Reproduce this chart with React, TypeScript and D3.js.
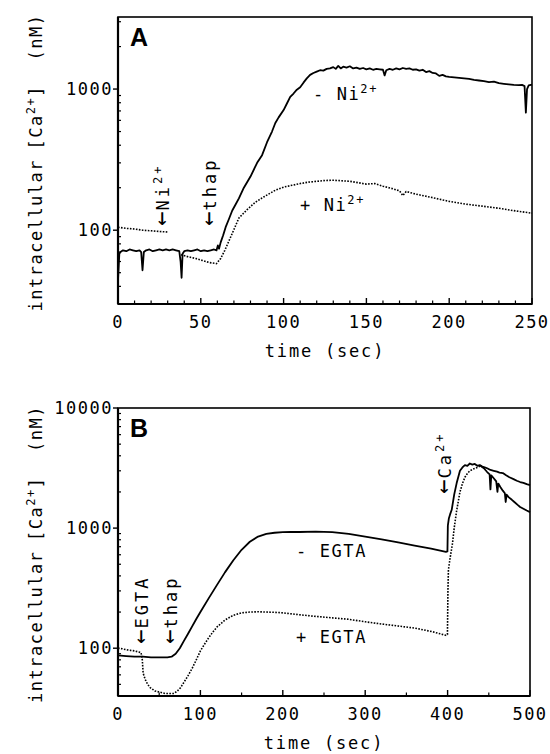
import React from 'react';
import * as d3 from 'd3';

type Pt = [number, number];

// ---------- tick labels ----------
const panelAXTicks = [0, 50, 100, 150, 200, 250];
const panelAYTicks = [100, 1000];
const panelBXTicks = [0, 100, 200, 300, 400, 500];
const panelBYTicks = [100, 1000, 10000];

// ---------- Panel A : thapsigargin -/+ Ni2+ ----------
const aMinusNi: Pt[] = [
  [0, 44], [0.8, 68], [1.5, 70], [3, 72], [5, 71], [7, 73], [9, 72], [11, 71], [13, 72], [14, 70],
  [14.8, 52], [15.6, 70], [17, 72], [19, 73], [21, 71], [23, 72], [25, 73], [27, 72], [29, 73],
  [31, 72], [33, 73], [35, 72], [37, 71], [37.8, 60], [38.4, 46], [39, 68], [40, 71], [42, 72],
  [44, 71], [46, 72], [48, 73], [50, 71], [52, 72], [54, 71], [56, 72], [58, 73], [59.5, 72],
  [60.3, 78], [61, 74], [62, 82], [63.5, 92], [65, 105], [67, 120], [69, 138], [71, 152], [73, 168],
  [76, 200], [80, 240], [84, 300], [87, 340], [90, 420], [93, 500], [95, 575], [97, 630], [100, 710],
  [102, 790], [104, 880], [106, 930], [108, 990], [110, 1030], [112, 1110], [114, 1190], [116, 1260],
  [118, 1300], [120, 1330], [122, 1360], [124, 1350], [126, 1390], [128, 1400], [130, 1430],
  [131.5, 1390], [133, 1460], [134.5, 1400], [136, 1440], [138, 1420], [140, 1450], [142, 1400],
  [144, 1420], [146, 1390], [148, 1410], [150, 1380], [152, 1400], [154, 1370], [156, 1390],
  [158, 1380], [160, 1370], [161, 1250], [162, 1360], [164, 1390], [166, 1370], [168, 1400],
  [170, 1380], [172, 1410], [174, 1390], [176, 1400], [178, 1370], [180, 1380], [182, 1350],
  [184, 1370], [186, 1320], [188, 1340], [190, 1300], [192, 1290], [194, 1240], [196, 1260],
  [198, 1230], [200, 1220], [203, 1210], [206, 1200], [209, 1190], [212, 1180], [215, 1160],
  [218, 1150], [221, 1140], [224, 1120], [227, 1130], [230, 1100], [233, 1090], [236, 1080],
  [239, 1070], [242, 1065], [244, 1070], [245.5, 1050], [246.3, 680], [247, 1000], [248, 1060],
  [250, 1075],
];

const aPlusNiEarly: Pt[] = [
  [0, 105], [5, 103], [10, 102], [15, 100], [20, 99], [25, 98], [30, 97],
];

const aPlusNiLate: Pt[] = [
  [38, 67], [42, 65], [47, 63], [51, 61], [55, 59], [59.5, 58], [62, 63], [64.5, 72], [67, 84],
  [69, 95], [73, 122], [78, 140], [83, 158], [88, 172], [95, 192], [100, 202], [105, 208],
  [110, 214], [115, 219], [120, 222], [125, 225], [130, 226], [135, 224], [140, 222], [145, 217],
  [150, 212], [155, 214], [160, 205], [165, 198], [170, 190], [172, 176], [174, 188], [180, 180],
  [190, 170], [200, 160], [210, 153], [220, 148], [230, 143], [240, 137], [250, 132],
];

// ---------- Panel B : thapsigargin -/+ EGTA, then Ca2+ ----------
const bMinusEgta: Pt[] = [
  [0, 87], [10, 86], [20, 85], [30, 85], [40, 84], [50, 84], [60, 84], [65, 85], [70, 90], [75, 100],
  [80, 115], [85, 132], [90, 152], [95, 175], [100, 200], [110, 260], [120, 335], [130, 430],
  [140, 540], [150, 660], [160, 770], [170, 850], [180, 895], [190, 915], [200, 925], [210, 930],
  [220, 928], [240, 935], [260, 925], [280, 895], [300, 850], [320, 805], [340, 760], [360, 715],
  [380, 675], [398, 635], [399.8, 640], [400.3, 1050], [401.5, 1200], [403, 1300], [405, 1420],
  [408, 1900], [411, 2370], [415, 3000], [418, 3200], [421, 3350], [424, 3300], [427, 3450],
  [430, 3380], [433, 3420], [436, 3300], [439, 3350], [442, 3250], [445, 3200], [448, 3150],
  [452, 3050], [456, 3000], [460, 2950], [463, 2900], [467, 2870], [471, 2750], [475, 2650],
  [480, 2560], [484, 2480], [488, 2420], [492, 2380], [496, 2320], [500, 2280],
];

const bPlusEgta: Pt[] = [
  [0, 100], [5, 99], [10, 97], [15, 96], [20, 95], [25, 93], [28, 92], [29.5, 80], [30.5, 62],
  [33, 55], [36, 50], [39, 47], [45, 44], [51, 43], [57, 42], [63, 42], [68, 42], [72, 44], [76, 47],
  [80, 52], [85, 59], [90, 68], [95, 80], [100, 95], [105, 108], [110, 122], [115, 136], [120, 150],
  [130, 172], [140, 188], [150, 197], [160, 200], [170, 201], [180, 200], [190, 199], [200, 197],
  [220, 190], [240, 184], [260, 179], [280, 174], [300, 166], [320, 159], [340, 153], [360, 147],
  [380, 138], [398, 128], [399.8, 130], [400.4, 300], [401, 450], [403, 560], [406, 750],
  [408, 1000], [411, 1400], [415, 2000], [418, 2350], [421, 2650], [424, 2850], [427, 3000],
  [431, 3100], [436, 3200], [440, 3300],
];

const bPlusEgtaTail: Pt[] = [
  [440, 3300], [444, 3150], [448, 2930], [451, 2800], [452, 2100], [453, 2750], [456, 2600],
  [459, 2450], [460.5, 2000], [461.5, 2350], [464, 2200], [467, 2050], [469.5, 1950], [470.5, 1650],
  [471.5, 1900], [474, 1810], [478, 1720], [481, 1650], [485, 1560], [488, 1500], [492, 1450],
  [496, 1400], [500, 1360],
];

const MONO = "'DejaVu Sans Mono', monospace";
const SANS = "'Liberation Sans', Arial, sans-serif";

type Series = { data: Pt[]; dotted: boolean };

type PanelProps = {
  box: { l: number; r: number; t: number; b: number };
  xDom: [number, number];
  yDom: [number, number];
  xLabels: number[];
  xMinorStep: number;
  yLabels: number[];
  series: Series[];
  letter: string;
  children?: React.ReactNode;
};

function Sup({ base, sup, after }: { base: string; sup: string; after?: string }) {
  return (
    <>
      {base}
      <tspan fontSize={12} dy={-7}>{sup}</tspan>
      {after !== undefined ? <tspan dy={7}>{after}</tspan> : null}
    </>
  );
}

function Panel({ box, xDom, yDom, xLabels, xMinorStep, yLabels, series, letter, children }: PanelProps) {
  const x = d3.scaleLinear().domain(xDom).range([box.l, box.r]);
  const y = d3.scaleLog().domain(yDom).range([box.b, box.t]);
  const line = d3.line<Pt>().x((d) => x(d[0])).y((d) => y(d[1]));
  const xMinor = d3.range(xDom[0], xDom[1] + 1e-6, xMinorStep).filter((v) => !xLabels.includes(v));
  const yMinor = y.ticks().filter((v) => !yLabels.includes(v) && v > yDom[0] && v < yDom[1]);
  const cy = (box.t + box.b) / 2;
  const labelStyle = { fontFamily: MONO, fontSize: 17, letterSpacing: 1.5 } as const;

  return (
    <g>
      {series.map((s, i) => (
        <path
          key={i}
          d={line(s.data) || ''}
          fill="none"
          stroke="#000"
          strokeWidth={s.dotted ? 1.6 : 1.8}
          strokeDasharray={s.dotted ? '1.6 1.4' : undefined}
          strokeLinejoin="round"
        />
      ))}
      <rect x={box.l} y={box.t} width={box.r - box.l} height={box.b - box.t} fill="none" stroke="#000" strokeWidth={1.6} />
      <line x1={box.l} x2={box.l} y1={box.t} y2={box.b} stroke="#000" strokeWidth={2.2} />
      <line x1={box.l} x2={box.r} y1={box.b} y2={box.b} stroke="#000" strokeWidth={2.2} />
      {/* x ticks (inward) */}
      {xLabels.map((v) => (
        <line key={'xM' + v} x1={x(v)} x2={x(v)} y1={box.b} y2={box.b - 6} stroke="#000" strokeWidth={1.4} />
      ))}
      {xMinor.map((v) => (
        <line key={'xm' + v} x1={x(v)} x2={x(v)} y1={box.b} y2={box.b - 3.5} stroke="#000" strokeWidth={1.2} />
      ))}
      {xLabels.map((v) => (
        <text key={'xl' + v} x={x(v)} y={box.b + 24} textAnchor="middle" style={labelStyle} fontSize={17}>
          {v}
        </text>
      ))}
      {/* y ticks */}
      {yLabels.map((v) => (
        <g key={'yM' + v}>
          <line x1={box.l - 5} x2={box.l} y1={y(v)} y2={y(v)} stroke="#000" strokeWidth={1.4} />
          <text x={box.l - 5} y={y(v)} dy="0.36em" textAnchor="end" style={labelStyle}>
            {v}
          </text>
        </g>
      ))}
      {yMinor.map((v) => (
        <line key={'ym' + v} x1={box.l} x2={box.l + 3} y1={y(v)} y2={y(v)} stroke="#000" strokeWidth={1.2} />
      ))}
      {/* axis titles */}
      <text x={(box.l + box.r) / 2} y={box.b + 53} textAnchor="middle" style={{ ...labelStyle, letterSpacing: 1.8 }}>
        time (sec)
      </text>
      <g style={labelStyle}>
        <text transform={`translate(42,${cy + 151}) rotate(-90)`}>intracellular</text>
        <text transform={`translate(42,${cy - 11}) rotate(-90)`}>
          <Sup base="[Ca" sup="2+" after="]" />
        </text>
        <text transform={`translate(42,${cy - 147}) rotate(-90)`} textAnchor="end">(nM)</text>
      </g>
      <text x={box.l + 12} y={box.t + 29} fontFamily={SANS} fontWeight="bold" fontSize={25}>
        {letter}
      </text>
      {children}
    </g>
  );
}

const annStyle = { fontFamily: MONO, fontSize: 17, letterSpacing: 3 } as const;
const tagStyle = { fontFamily: MONO, fontSize: 17, letterSpacing: 1.6 } as const;

function Rot({ x, y, label, sup }: { x: number; y: number; label: string; sup?: string }) {
  return (
    <text transform={`translate(${x},${y}) rotate(-90)`} style={annStyle}>
      <tspan fontSize={24} letterSpacing={0}>{'←'}</tspan>
      <tspan dx={1}>{label}</tspan>
      {sup ? <tspan fontSize={12} dy={-7}>{sup}</tspan> : null}
    </text>
  );
}

export default function App() {
  return (
    <svg width={550} height={754} style={{ position: 'absolute', left: 0, top: 0, background: '#fff' }}>
      <rect x={0} y={0} width={550} height={754} fill="#fff" />
      <Panel
        box={{ l: 118, r: 532, t: 17, b: 304 }}
        xDom={[0, 250]}
        yDom={[30, 3240]}
        xLabels={panelAXTicks}
        xMinorStep={10}
        yLabels={panelAYTicks}
        series={[
          { data: aPlusNiEarly, dotted: true },
          { data: aPlusNiLate, dotted: true },
          { data: aMinusNi, dotted: false },
        ]}
        letter="A"
      >
        <Rot x={169} y={226} label="Ni" sup="2+" />
        <Rot x={216} y={226} label="thap" />
        <text x={313} y={100} style={tagStyle}>
          <Sup base="- Ni" sup="2+" />
        </text>
        <text x={300} y={211} style={tagStyle}>
          <Sup base="+ Ni" sup="2+" />
        </text>
      </Panel>
      <Panel
        box={{ l: 118, r: 530, t: 408, b: 696 }}
        xDom={[0, 500]}
        yDom={[40, 10000]}
        xLabels={panelBXTicks}
        xMinorStep={50}
        yLabels={panelBYTicks}
        series={[
          { data: bPlusEgta, dotted: true },
          { data: bPlusEgtaTail, dotted: false },
          { data: bMinusEgta, dotted: false },
        ]}
        letter="B"
      >
        <Rot x={148} y={644} label="EGTA" />
        <Rot x={177} y={644} label="thap" />
        <Rot x={451} y={494} label="Ca" sup="2+" />
        <text x={296} y={557} style={tagStyle}>- EGTA</text>
        <text x={296} y={643} style={tagStyle}>+ EGTA</text>
      </Panel>
    </svg>
  );
}
